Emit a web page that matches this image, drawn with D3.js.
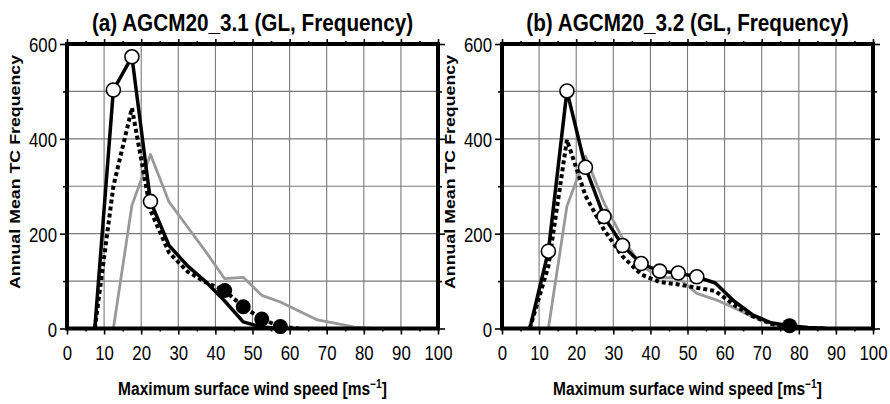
<!DOCTYPE html>
<html><head><meta charset="utf-8">
<script src="https://cdn.jsdelivr.net/npm/d3@7"></script>
<style>
html,body{margin:0;padding:0;background:#fff;}
svg{display:block;font-family:"Liberation Sans",Arial,sans-serif;}
</style></head>
<body><svg id="c" width="890" height="404"></svg>
<script>
// ---- data ----
const wind = [7.5,12.5,17.5,22.5,27.5,32.5,37.5,42.5,47.5,52.5,57.5,62.5,67.5,72.5,77.5,82.5,87.5];
const titles = ["(a) AGCM20_3.1 (GL, Frequency)", "(b) AGCM20_3.2 (GL, Frequency)"];
const aSolid  = [0,503,573,268,175,132,98,58,14,3,0,null,null,null,null,null,null];
const aDashed = [0,300,465,249,160,120,97,80,46,20,4,0,null,null,null,null,null];
const aGray   = [null,0,260,367,267,214,161,105,108,70,56,37,18,11,3,0,null];
const bSolid  = [0,163,501,340,236,175,137,121,117,109,96,58,29,12,6,2,0];
const bDashed = [0,131,398,280,208,152,114,98,93,86,79,50,26,10,3,1,0];
const bGray   = [null,0,258,363,265,190,133,107,107,74,61,44,25,11,2,0,null];
// markers: open circles on solid line, filled circles on given series
const aOpen = [12.5,17.5,22.5];
const aFilled = [42.5,47.5,52.5,57.5];   // on dashed
const bOpen = [12.5,17.5,22.5,27.5,32.5,37.5,42.5,47.5,52.5];
const bFilled = [77.5];                  // on solid
const xTicks = [0,10,20,30,40,50,60,70,80,90,100];
const xMinor = [5,15,25,35,45,55,65,75,85,95];
const yTicks = [0,200,400,600];
const yMinor = [100,300,500];
const yGrid = [100,200,300,400,500];
const xGrid = [10,20,30,40,50,60,70,80,90];
const xLabel = "Maximum surface wind speed [ms";
const yLabel = "Annual Mean TC Frequency";

const svg = d3.select("#c");
const panels = [
  {x0:67, x1:438, title:titles[0], solid:aSolid, dashed:aDashed, gray:aGray, open:aOpen, filled:aFilled, filledOn:"dashed"},
  {x0:502, x1:873, title:titles[1], solid:bSolid, dashed:bDashed, gray:bGray, open:bOpen, filled:bFilled, filledOn:"solid"}
];
const yTop = 44, yBot = 328.5;
const CS = 0.8; // condensed factor for tick labels

panels.forEach(p => {
  const x = d3.scaleLinear().domain([0,100]).range([p.x0,p.x1]);
  const y = d3.scaleLinear().domain([0,600]).range([yBot, yTop]);
  const g = svg.append("g");

  // grid
  g.selectAll(".vg").data(xGrid).join("line")
    .attr("x1",d=>x(d)).attr("x2",d=>x(d)).attr("y1",yTop).attr("y2",yBot)
    .attr("stroke","#7a7a7a").attr("stroke-width",1.1);
  g.selectAll(".hg").data(yGrid).join("line")
    .attr("y1",d=>y(d)).attr("y2",d=>y(d)).attr("x1",p.x0).attr("x2",p.x1)
    .attr("stroke","#7a7a7a").attr("stroke-width",1.1);

  // axes
  const styleAxis = sel => { sel.select(".domain").remove(); sel.selectAll("line").attr("stroke","#000").attr("stroke-width",1.6); };
  g.append("g").attr("transform",`translate(0,${yBot})`)
    .call(d3.axisBottom(x).tickValues(xTicks).tickSize(6).tickPadding(0).tickFormat(d3.format("d")))
    .call(styleAxis)
    .call(s=>s.selectAll("text").attr("y",17).attr("font-size",21).attr("fill","#000")
      .attr("font-family","Liberation Sans, Arial, sans-serif").attr("transform",`scale(${CS},1)`));
  g.append("g").attr("transform",`translate(0,${yBot})`)
    .call(d3.axisBottom(x).tickValues(xMinor).tickSize(3).tickFormat("")).call(styleAxis);
  g.append("g").attr("transform",`translate(0,${yTop})`)
    .call(d3.axisTop(x).tickValues(xTicks).tickSize(5).tickFormat("")).call(styleAxis);
  g.append("g").attr("transform",`translate(0,${yTop})`)
    .call(d3.axisTop(x).tickValues(xMinor).tickSize(3).tickFormat("")).call(styleAxis);
  g.append("g").attr("transform",`translate(${p.x0},0)`)
    .call(d3.axisLeft(y).tickValues(yTicks).tickSize(7).tickFormat(d3.format("d")))
    .call(styleAxis)
    .call(s=>s.selectAll("text").attr("x",-10/CS).attr("dy","0.36em").attr("font-size",21).attr("fill","#000")
      .attr("font-family","Liberation Sans, Arial, sans-serif").attr("transform",`scale(${CS},1)`));
  g.append("g").attr("transform",`translate(${p.x0},0)`)
    .call(d3.axisLeft(y).tickValues(yMinor).tickSize(4).tickFormat("")).call(styleAxis);
  g.append("g").attr("transform",`translate(${p.x1},0)`)
    .call(d3.axisRight(y).tickValues(yTicks).tickSize(7).tickFormat("")).call(styleAxis);
  g.append("g").attr("transform",`translate(${p.x1},0)`)
    .call(d3.axisRight(y).tickValues(yMinor).tickSize(4).tickFormat("")).call(styleAxis);

  // lines
  const mk = arr => d3.line().defined((d,i)=>arr[i]!==null).x((d,i)=>x(wind[i])).y((d,i)=>y(arr[i]))(arr);
  const clip = "clip"+p.x0;
  svg.append("clipPath").attr("id",clip).append("rect")
    .attr("x",p.x0).attr("y",yTop-10).attr("width",p.x1-p.x0).attr("height",yBot-yTop+10);
  const lg = g.append("g").attr("clip-path",`url(#${clip})`);
  lg.append("path").attr("d",mk(p.gray)).attr("fill","none").attr("stroke","#999").attr("stroke-width",2.8).attr("stroke-linejoin","round");
  lg.append("path").attr("d",mk(p.dashed)).attr("fill","none").attr("stroke","#000").attr("stroke-width",4).attr("stroke-dasharray","4,3");
  lg.append("path").attr("d",mk(p.solid)).attr("fill","none").attr("stroke","#000").attr("stroke-width",3.5).attr("stroke-linejoin","round");

  // frame
  g.append("rect").attr("x",p.x0).attr("y",yTop).attr("width",p.x1-p.x0).attr("height",yBot-yTop)
    .attr("fill","none").attr("stroke","#000").attr("stroke-width",4);

  // markers
  const val = (arr,w)=>arr[wind.indexOf(w)];
  g.selectAll(".op").data(p.open).join("circle")
    .attr("cx",d=>x(d)).attr("cy",d=>y(val(p.solid,d))).attr("r",7)
    .attr("fill","#fff").attr("stroke","#000").attr("stroke-width",1.6);
  const fArr = p.filledOn==="dashed" ? p.dashed : p.solid;
  g.selectAll(".fp").data(p.filled).join("circle")
    .attr("cx",d=>x(d)).attr("cy",d=>y(val(fArr,d))).attr("r",7.5).attr("fill","#000");

  // title
  const cx = (p.x0+p.x1)/2;
  g.append("text").attr("transform",`translate(${cx},31) scale(0.9,1)`).attr("text-anchor","middle")
    .attr("font-size",23).attr("font-weight","bold").text(p.title);
  // x label
  const xt = g.append("text").attr("transform",`translate(${cx},395) scale(0.84,1)`).attr("text-anchor","middle")
    .attr("font-size",18.5).attr("font-weight","bold");
  xt.append("tspan").text(xLabel);
  xt.append("tspan").attr("dy",-7).attr("font-size",12).text("\u22121");
  xt.append("tspan").attr("dy",7).text("]");
  // y label
  g.append("text").attr("transform",`translate(${p.x0-47},172) rotate(-90) scale(1.27,1)`).attr("text-anchor","middle")
    .attr("font-size",14).attr("font-weight","bold").text(yLabel);
});
</script></body></html>
